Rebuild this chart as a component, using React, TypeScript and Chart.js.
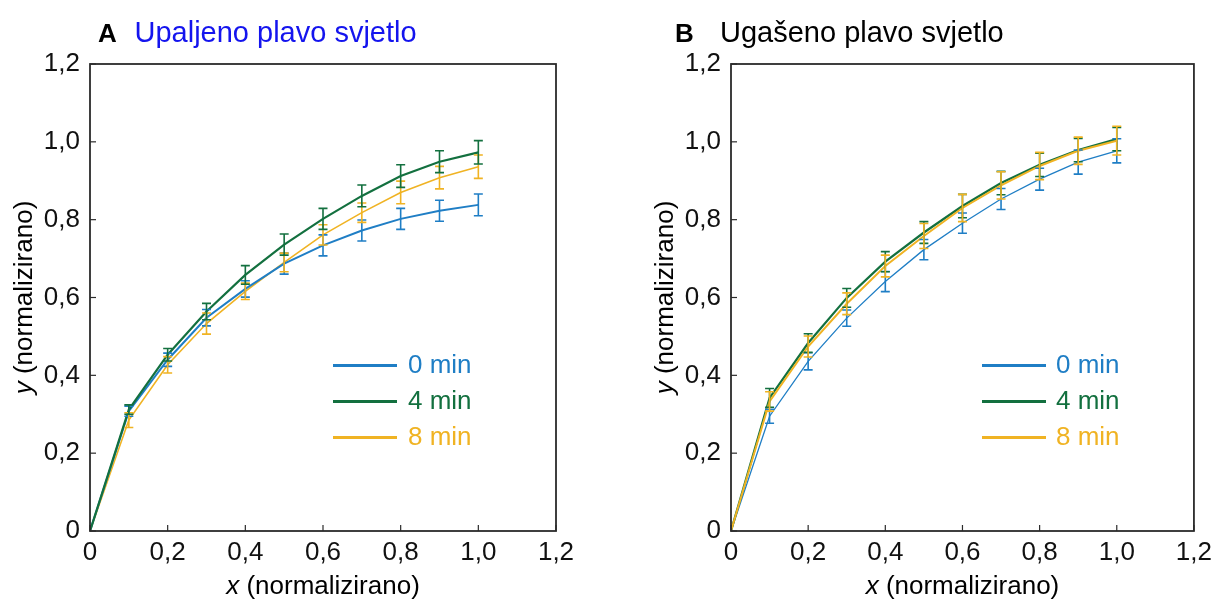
import React, { useEffect, useRef } from 'react';
import { Chart, registerables } from 'chart.js';

Chart.register(...registerables);

// ---------- DATA ----------
const xValues = [0, 0.1, 0.2, 0.3, 0.4, 0.5, 0.6, 0.7, 0.8, 0.9, 1.0];
const xTickLabels = ['0', '0,2', '0,4', '0,6', '0,8', '1,0', '1,2'];
const yTickLabels = ['0', '0,2', '0,4', '0,6', '0,8', '1,0', '1,2'];
const seriesLabels = ['0 min', '4 min', '8 min'];

// Panel A: Upaljeno plavo svjetlo
const aMin0 = [0, 0.308, 0.44, 0.548, 0.622, 0.687, 0.734, 0.772, 0.802, 0.823, 0.838];
const aMin0Err = [0, 0.013, 0.017, 0.021, 0.021, 0.027, 0.027, 0.027, 0.027, 0.027, 0.028];
const aMin4 = [0, 0.312, 0.453, 0.564, 0.658, 0.736, 0.802, 0.861, 0.912, 0.949, 0.973];
const aMin4Err = [0, 0.012, 0.016, 0.021, 0.024, 0.027, 0.027, 0.028, 0.029, 0.028, 0.03];
const aMin8 = [0, 0.285, 0.427, 0.533, 0.616, 0.69, 0.761, 0.818, 0.87, 0.908, 0.936];
const aMin8Err = [0, 0.019, 0.021, 0.027, 0.021, 0.024, 0.026, 0.025, 0.029, 0.029, 0.03];

// Panel B: Ugašeno plavo svjetlo
const bMin0 = [0, 0.295, 0.436, 0.547, 0.641, 0.723, 0.791, 0.853, 0.904, 0.948, 0.977];
const bMin0Err = [0, 0.018, 0.022, 0.021, 0.026, 0.026, 0.026, 0.027, 0.028, 0.031, 0.031];
const bMin4 = [0, 0.342, 0.483, 0.599, 0.692, 0.767, 0.835, 0.894, 0.941, 0.979, 1.007];
const bMin4Err = [0, 0.024, 0.024, 0.024, 0.026, 0.028, 0.03, 0.03, 0.03, 0.03, 0.03];
const bMin8 = [0, 0.333, 0.474, 0.584, 0.681, 0.758, 0.83, 0.888, 0.938, 0.977, 1.003];
const bMin8Err = [0, 0.025, 0.027, 0.028, 0.028, 0.032, 0.035, 0.035, 0.035, 0.035, 0.037];

// ---------- STYLE ----------
const FONT = '"Liberation Sans", Arial, Helvetica, sans-serif';
const BLUE = '#1f7ec5';
const GREEN = '#13703f';
const YELLOW = '#f0b323';
const COLORS = [BLUE, GREEN, YELLOW];

type Panel = {
  left: number;
  width: number;
  axisW: number;
  padRight: number;
  letter: string;
  letterX: number;
  text: string;
  textX: number;
  textColor: string;
  legendX0: number;
  legendX1: number;
  legendTextX: number;
  yTitleX: number;
  values: number[][];
  errs: number[][];
  widths: number[];
  errOrder: number[];
  drawOrder: number[];
};

const panels: Panel[] = [
  {
    left: 0, width: 609, axisW: 90, padRight: 53,
    letter: 'A', letterX: 98, text: 'Upaljeno plavo svjetlo', textX: 134.5, textColor: '#1414ee',
    legendX0: 333, legendX1: 397, legendTextX: 408, yTitleX: 25,
    values: [aMin0, aMin4, aMin8], errs: [aMin0Err, aMin4Err, aMin8Err],
    widths: [2, 2.2, 1.6], errOrder: [0, 2, 1], drawOrder: [1, 0, 2],
  },
  {
    left: 609, width: 609, axisW: 122, padRight: 20,
    letter: 'B', letterX: 675, text: 'Ugašeno plavo svjetlo', textX: 720, textColor: '#000000',
    legendX0: 982, legendX1: 1046, legendTextX: 1056, yTitleX: 666,
    values: [bMin0, bMin4, bMin8], errs: [bMin0Err, bMin4Err, bMin8Err],
    widths: [1.3, 2.2, 2], errOrder: [0, 1, 2], drawOrder: [2, 1, 0],
  },
];

const legendRows = [365.5, 401.5, 437.5];

function makePlugin(p: Panel) {
  return {
    id: 'decor' + p.letter,
    afterDatasetsDraw(chart: any) {
      const { ctx, chartArea: a, scales } = chart;
      const xs = scales.x;
      const ys = scales.y;
      const off = p.left;
      // error bars
      p.errOrder.forEach((si) => {
        const vals = p.values[si];
        const errs = p.errs[si];
        ctx.save();
        ctx.strokeStyle = COLORS[si];
        ctx.lineWidth = 1.6;
        xValues.forEach((xv, i) => {
          const e = errs[i];
          if (!e) return;
          const px = xs.getPixelForValue(xv);
          const y1 = ys.getPixelForValue(vals[i] + e);
          const y2 = ys.getPixelForValue(vals[i] - e);
          ctx.beginPath();
          ctx.moveTo(px, y1);
          ctx.lineTo(px, y2);
          ctx.moveTo(px - 4.5, y1);
          ctx.lineTo(px + 4.5, y1);
          ctx.moveTo(px - 4.5, y2);
          ctx.lineTo(px + 4.5, y2);
          ctx.stroke();
        });
        ctx.restore();
      });
      // frame
      ctx.save();
      ctx.strokeStyle = '#2b2b2b';
      ctx.lineWidth = 1.8;
      ctx.strokeRect(a.left, a.top, a.right - a.left, a.bottom - a.top);
      // inward ticks
      ctx.lineWidth = 1.2;
      xs.ticks.forEach((t: any) => {
        const px = xs.getPixelForValue(t.value);
        ctx.beginPath();
        ctx.moveTo(px, a.bottom);
        ctx.lineTo(px, a.bottom - 6);
        ctx.stroke();
      });
      ys.ticks.forEach((t: any) => {
        const py = ys.getPixelForValue(t.value);
        ctx.beginPath();
        ctx.moveTo(a.left, py);
        ctx.lineTo(a.left + 6, py);
        ctx.stroke();
      });
      ctx.restore();
      // legend
      ctx.save();
      seriesLabels.forEach((lab, i) => {
        const yy = legendRows[i];
        ctx.strokeStyle = COLORS[i];
        ctx.lineWidth = 3;
        ctx.beginPath();
        ctx.moveTo(p.legendX0 - off, yy);
        ctx.lineTo(p.legendX1 - off, yy);
        ctx.stroke();
        ctx.fillStyle = COLORS[i];
        ctx.font = `26px ${FONT}`;
        ctx.textBaseline = 'middle';
        ctx.textAlign = 'left';
        ctx.fillText(lab, p.legendTextX - off, yy);
      });
      ctx.restore();
    },
    afterDraw(chart: any) {
      const { ctx, chartArea: a } = chart;
      const off = p.left;
      ctx.save();
      // panel title
      ctx.textBaseline = 'alphabetic';
      ctx.textAlign = 'left';
      ctx.fillStyle = '#000';
      ctx.font = `bold 26px ${FONT}`;
      ctx.fillText(p.letter, p.letterX - off, 41.5);
      ctx.fillStyle = p.textColor;
      ctx.font = `29px ${FONT}`;
      ctx.fillText(p.text, p.textX - off, 41.5);
      // x axis title
      ctx.fillStyle = '#000';
      const italic = `italic 26px ${FONT}`;
      const normal = `26px ${FONT}`;
      const rest = ' (normalizirano)';
      ctx.font = italic;
      const wx = ctx.measureText('x').width;
      ctx.font = normal;
      const wr = ctx.measureText(rest).width;
      const cx = (a.left + a.right) / 2;
      const sx = cx - (wx + wr) / 2;
      ctx.font = italic;
      ctx.fillText('x', sx, 594);
      ctx.font = normal;
      ctx.fillText(rest, sx + wx, 594);
      // y axis title
      ctx.translate(p.yTitleX - off, (a.top + a.bottom) / 2);
      ctx.rotate(-Math.PI / 2);
      ctx.textBaseline = 'middle';
      ctx.font = italic;
      const wy = ctx.measureText('y').width;
      const sy = -(wy + wr) / 2;
      ctx.fillText('y', sy, 0);
      ctx.font = normal;
      ctx.fillText(rest, sy + wy, 0);
      ctx.restore();
    },
  };
}

function PanelChart({ p }: { p: Panel }) {
  const ref = useRef<HTMLCanvasElement | null>(null);
  useEffect(() => {
    if (!ref.current) return;
    const chart = new Chart(ref.current, {
      type: 'line',
      data: {
        datasets: p.values.map((vals, si) => ({
          label: seriesLabels[si],
          data: xValues.map((xv, i) => ({ x: xv, y: vals[i] })),
          borderColor: COLORS[si],
          backgroundColor: COLORS[si],
          borderWidth: p.widths[si],
          pointRadius: 0,
          fill: false,
          tension: 0,
          order: p.drawOrder[si],
        })),
      },
      options: {
        animation: false,
        responsive: false,
        devicePixelRatio: 1,
        events: [],
        layout: { padding: { top: 64, right: p.padRight, bottom: 0, left: 0 } },
        plugins: {
          legend: { display: false },
          title: { display: false },
          tooltip: { enabled: false },
        },
        scales: {
          x: {
            type: 'linear',
            min: 0,
            max: 1.2,
            grid: { display: false, drawTicks: false, tickLength: 0 },
            border: { display: false },
            afterFit: (s: any) => { s.height = 70; },
            ticks: {
              stepSize: 0.2,
              padding: 6,
              color: '#111',
              font: { family: FONT, size: 26 },
              maxRotation: 0,
              autoSkip: false,
              callback: (_v: any, i: number) => xTickLabels[i],
            },
          },
          y: {
            type: 'linear',
            min: 0,
            max: 1.2,
            grid: { display: false, drawTicks: false, tickLength: 0 },
            border: { display: false },
            afterFit: (s: any) => { s.width = p.axisW; },
            ticks: {
              stepSize: 0.2,
              padding: 10,
              color: '#111',
              font: { family: FONT, size: 26 },
              autoSkip: false,
              callback: (_v: any, i: number) => yTickLabels[i],
            },
          },
        },
      },
      plugins: [makePlugin(p)],
    } as any);
    return () => chart.destroy();
  }, [p]);
  return (
    <canvas
      ref={ref}
      width={p.width}
      height={601}
      style={{ position: 'absolute', left: p.left, top: 0, width: p.width, height: 601 }}
    />
  );
}

export default function App() {
  return (
    <div style={{ position: 'absolute', left: 0, top: 0, width: 1218, height: 601, background: '#fff', overflow: 'hidden' }}>
      {panels.map((p) => (
        <PanelChart key={p.letter} p={p} />
      ))}
    </div>
  );
}
